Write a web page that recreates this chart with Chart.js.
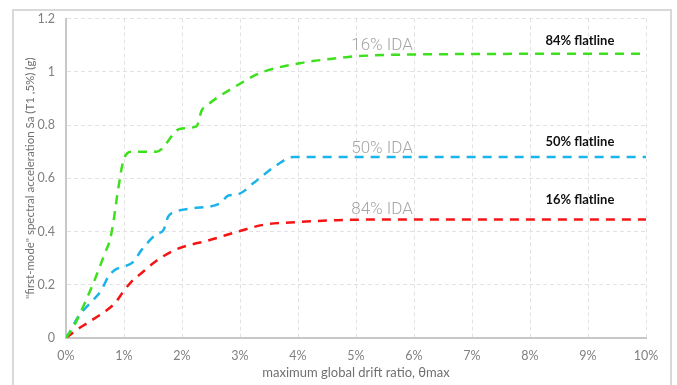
<!DOCTYPE html>
<html>
<head>
<meta charset="utf-8">
<script src="https://cdn.jsdelivr.net/npm/chart.js@4/dist/chart.umd.min.js"></script>
<style>
html,body{margin:0;padding:0;background:#fff;}
#wrap{width:677px;height:385px;position:relative;}
</style>
</head>
<body>
<div id="wrap"><canvas id="c" width="677" height="385"></canvas></div>
<script>
// Data (drift in %, Sa in g)
const drift16 = [0, 0.15, 0.27, 0.47, 0.67, 0.76, 0.82, 0.9, 0.99, 1.13, 1.56, 1.97, 2.25, 2.34, 2.43, 3.0, 3.34, 4.03, 4.72, 5.0, 6.0, 10.0];
const sa16    = [0, 0.05, 0.105, 0.205, 0.318, 0.37, 0.44, 0.56, 0.667, 0.70, 0.70, 0.786, 0.795, 0.855, 0.874, 0.955, 0.995, 1.032, 1.052, 1.058, 1.065, 1.068];
const drift50 = [0, 0.07, 0.21, 0.44, 0.61, 0.73, 0.84, 1.16, 1.3, 1.56, 1.68, 1.76, 1.88, 2.14, 2.65, 2.8, 2.97, 3.25, 3.63, 3.92, 10.0];
const sa50    = [0, 0.024, 0.08, 0.136, 0.18, 0.23, 0.255, 0.286, 0.33, 0.39, 0.405, 0.455, 0.474, 0.486, 0.505, 0.535, 0.54, 0.585, 0.649, 0.68, 0.68];
const drift84 = [0, 0.18, 0.36, 0.64, 0.84, 0.99, 1.13, 1.28, 1.56, 1.85, 2.11, 2.43, 3.0, 3.4, 4.03, 4.67, 5.5, 10.0];
const sa84    = [0, 0.03, 0.055, 0.095, 0.13, 0.175, 0.212, 0.24, 0.29, 0.328, 0.348, 0.365, 0.402, 0.425, 0.436, 0.4425, 0.445, 0.445];

const seriesNames = ['16% IDA', '50% IDA', '84% IDA'];
const idaLabelX = [5.45, 5.45, 5.45];
const idaLabelY = [1.099, 0.712, 0.48];
const flatLabels = ['84% flatline', '50% flatline', '16% flatline'];
const flatLabelX = [8.86, 8.86, 8.86];
const flatLabelY = [1.117, 0.735, 0.5175];

const xTicksMax = 10, yMax = 1.2;
const xTitle = 'maximum global drift ratio, θmax';
const yTitle = '"first-mode" spectral acceleration Sa (T1 ,5%) (g)';

const toPts = (xs, ys) => xs.map((x, i) => ({x: x, y: ys[i]}));

const frame = {
  id: 'frame',
  beforeDraw(chart) {
    const ctx = chart.ctx;
    ctx.save();
    ctx.strokeStyle = '#d9d9d9';
    ctx.lineWidth = 2;
    ctx.strokeRect(13, 10, 658, 400);
    ctx.restore();
  },
  afterDatasetsDraw(chart) {
    const ctx = chart.ctx, xs = chart.scales.x, ys = chart.scales.y;
    ctx.save();
    ctx.textAlign = 'center';
    ctx.textBaseline = 'middle';
    ctx.fillStyle = '#a6a6a6';
    ctx.font = '300 17px Roboto, "Open Sans", sans-serif';
    seriesNames.forEach((t, i) => {
      ctx.fillText(t, xs.getPixelForValue(idaLabelX[i]), ys.getPixelForValue(idaLabelY[i]));
    });
    ctx.fillStyle = '#111';
    ctx.font = 'bold 13px Lato, "Open Sans", sans-serif';
    flatLabels.forEach((t, i) => {
      ctx.fillText(t, xs.getPixelForValue(flatLabelX[i]), ys.getPixelForValue(flatLabelY[i]));
    });
    ctx.restore();
  }
};

const common = {pointRadius: 0, borderWidth: 2.5, borderDash: [9, 7], showLine: true, cubicInterpolationMode: 'monotone', fill: false};

new Chart(document.getElementById('c'), {
  type: 'scatter',
  data: {
    datasets: [
      Object.assign({label: seriesNames[0], data: toPts(drift16, sa16), borderColor: '#3de01c'}, common),
      Object.assign({label: seriesNames[1], data: toPts(drift50, sa50), borderColor: '#1ab3ea'}, common),
      Object.assign({label: seriesNames[2], data: toPts(drift84, sa84), borderColor: '#f51414'}, common)
    ]
  },
  options: {
    responsive: false,
    animation: false,
    layout: {padding: {left: 13, top: 18, right: 31, bottom: 0}},
    plugins: {legend: {display: false}, tooltip: {enabled: false}},
    scales: {
      x: {
        type: 'linear', min: 0, max: xTicksMax,
        afterFit(s) { s.height = 47; },
        ticks: {stepSize: 1, color: '#808080', font: {family: 'Lato', size: 12.5}, padding: 10,
          callback: v => v + '%'},
        grid: {color: '#e2e2e2', drawTicks: false},
        border: {color: '#c8c8c8', width: 2, dash: [4, 3]},
        title: {display: true, text: xTitle, color: '#707070', font: {family: 'Lato', size: 13}, padding: {top: 3, bottom: 4}}
      },
      y: {
        min: 0, max: yMax,
        afterFit(s) { s.width = 53; },
        ticks: {stepSize: 0.2, color: '#808080', font: {family: 'Lato', size: 12.5}, padding: 11,
          callback: v => String(Math.round(v * 10) / 10)},
        grid: {color: '#e2e2e2', drawTicks: false},
        border: {color: '#c8c8c8', width: 2, dash: [4, 3]},
        title: {display: true, text: yTitle, color: '#707070', font: {family: 'Lato', size: 11.5}, padding: {top: 10, bottom: 0}}
      }
    }
  },
  plugins: [frame]
});
</script>
</body>
</html>
